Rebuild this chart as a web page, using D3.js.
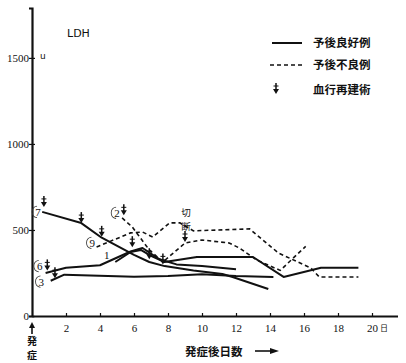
<!DOCTYPE html>
<html>
<head>
<meta charset="utf-8">
<script src="https://cdn.jsdelivr.net/npm/d3@7"></script>
<style>
  html, body { margin: 0; padding: 0; background: #fff; }
  svg { display: block; }
  .num { font-family: "Liberation Serif", "DejaVu Serif", serif; font-size: 11px; fill: #111; }
  .jp { font-family: "Noto Sans CJK JP", sans-serif; font-weight: 700; fill: #111; }
</style>
</head>
<body>
<svg id="chart" width="406" height="363"></svg>
<script>
// LDH (u) by days after onset, per case
const yTicks = [0, 500, 1000, 1500];
const xTicks = [2, 4, 6, 8, 10, 12, 14, 16, 18, 20];

// good-prognosis cases (solid)
const case7 = [[0.6,605],[2.9,540],[4.1,455],[6,355],[6.9,314],[7.8,290],[9.5,265],[11.2,244],[11.8,227],[13.9,157]];
const case6 = [[0.8,250],[2,280],[4,295],[5.8,375],[6.5,395],[7.5,330],[8.5,300],[10,290],[12,272]];
const case1 = [[4.9,314],[5.8,372],[6.4,384],[7,350],[7.8,314],[9.7,343],[13,343],[14.8,227],[17,280],[19.2,280]];
const case3 = [[1.1,205],[1.9,240],[6,228],[8,232],[10,242],[12,232],[14.2,227]];

// poor-prognosis cases (dashed)
const case9 = [[3.8,401],[5.8,483],[6.5,488],[7.1,459],[8.1,541],[8.7,541],[9.5,495],[12.8,506],[14.5,366],[16.4,279],[16.9,227],[19.2,227]];
const case2 = [[5.3,570],[5.9,517],[6.9,384],[7.7,314],[9,424],[10,442],[11.6,424],[12.2,395],[13.2,326],[14.6,265],[16.1,405]];

// revascularization events
const arrowDays   = [0.7, 2.9, 4.1, 0.9, 1.35, 5.4, 5.9, 6.9, 7.7, 9.0];
const arrowValues = [634, 540, 460, 265, 220, 585, 400, 330, 300, 430];

// case number labels
const labelText   = ["7", "6", "3", "9", "1", "2"];
const labelDays   = [0.35, 0.45, 0.55, 3.55, 4.4, 5.0];
const labelValues = [605, 290, 200, 425, 355, 600];
const labelCircle = [true, true, true, true, false, true];

const svg = d3.select("#chart");
svg.append("rect").attr("width", 406).attr("height", 363).attr("fill", "#fff");

const x = d3.scaleLinear().domain([0, 21.5]).range([32, 397.5]);
const y = d3.scaleLinear().domain([0, 1790]).range([316, 8]);

// axes
const yAxis = d3.axisLeft(y).tickValues(yTicks).tickSize(3).tickPadding(2).tickFormat(d3.format("d"));
const gy = svg.append("g").attr("transform", `translate(${x(0)},0)`).call(yAxis);
gy.select(".domain").attr("stroke", "#111").attr("stroke-width", 2.2);
gy.selectAll(".tick line").attr("stroke", "#111").attr("stroke-width", 1.2).attr("x2", 3).attr("x1", -3);
gy.selectAll(".tick text").attr("class", "num").attr("x", -3).style("font-size", "11px");

const xAxis = d3.axisBottom(x).tickValues(xTicks).tickSizeInner(-3).tickSizeOuter(0).tickPadding(8).tickFormat(d3.format("d"));
const gx = svg.append("g").attr("transform", `translate(0,${y(0)})`).call(xAxis);
gx.select(".domain").attr("stroke", "#111").attr("stroke-width", 2.2);
gx.selectAll(".tick line").attr("stroke", "#111").attr("stroke-width", 1.2);
gx.selectAll(".tick text").attr("class", "num");
svg.append("text").attr("class", "jp").attr("x", x(20) + 8).attr("y", 331)
  .style("font-size", "8px").style("font-weight", 400).text("日");

// onset marker under the origin
const ox = x(0);
svg.append("line").attr("x1", ox).attr("x2", ox).attr("y1", 327).attr("y2", 334)
  .attr("stroke", "#111").attr("stroke-width", 1.6);
svg.append("path").attr("d", `M${ox - 3},328 L${ox + 3},328 L${ox},322 Z`).attr("fill", "#111");
svg.append("text").attr("class", "jp").attr("x", ox).attr("y", 345).attr("text-anchor", "middle")
  .style("font-size", "10px").text("発");
svg.append("text").attr("class", "jp").attr("x", ox).attr("y", 359).attr("text-anchor", "middle")
  .style("font-size", "10px").text("症");

// axis title
svg.append("text").attr("class", "jp").attr("x", 185).attr("y", 356)
  .style("font-size", "11.5px").text("発症後日数");
svg.append("line").attr("x1", 255).attr("x2", 272).attr("y1", 351).attr("y2", 351)
  .attr("stroke", "#111").attr("stroke-width", 1.6);
svg.append("path").attr("d", "M270,348 L279,351 L270,354 Z").attr("fill", "#111");

svg.append("text").attr("x", 67).attr("y", 37)
  .style("font-family", "DejaVu Sans, sans-serif").style("font-size", "11px").attr("fill", "#111").text("LDH");
svg.append("text").attr("x", 40).attr("y", 59)
  .style("font-family", "DejaVu Sans, sans-serif").style("font-size", "9px").attr("fill", "#111").text("u");

// series
const line = d3.line().x(d => x(d[0])).y(d => y(d[1]));
const solid = [case7, case6, case1, case3];
const dashed = [case9, case2];

svg.append("g").selectAll("path").data(solid).join("path")
  .attr("d", line).attr("fill", "none").attr("stroke", "#111").attr("stroke-width", 2)
  .attr("stroke-linejoin", "round");
svg.append("g").selectAll("path").data(dashed).join("path")
  .attr("d", line).attr("fill", "none").attr("stroke", "#111").attr("stroke-width", 1.6)
  .attr("stroke-dasharray", "4,3");

// revascularization arrows
function arrowMark(g, px, py) {
  g.append("line").attr("x1", px).attr("x2", px).attr("y1", py - 11).attr("y2", py - 3)
    .attr("stroke", "#111").attr("stroke-width", 1.5);
  g.append("path").attr("d", `M${px - 3},${py - 5} L${px + 3},${py - 5} L${px},${py} Z`).attr("fill", "#111");
  g.append("line").attr("x1", px - 2.5).attr("x2", px + 2.5).attr("y1", py - 8).attr("y2", py - 8)
    .attr("stroke", "#111").attr("stroke-width", 1);
}
const ga = svg.append("g");
arrowDays.forEach((d, i) => arrowMark(ga, x(d), y(arrowValues[i])));

// case labels
const arc = d3.arc().innerRadius(5.4).outerRadius(6.2).startAngle(Math.PI * 1.05).endAngle(Math.PI * 1.95);
labelText.forEach((t, i) => {
  const px = x(labelDays[i]), py = y(labelValues[i]);
  svg.append("text").attr("class", "num").attr("x", px).attr("y", py + 4)
    .attr("text-anchor", "middle").style("font-size", "11px").text(t);
  if (labelCircle[i]) {
    svg.append("path").attr("d", arc).attr("transform", `translate(${px},${py})`).attr("fill", "#333");
  }
});

// amputation note
svg.append("text").attr("class", "jp").attr("x", 186).attr("y", 216).attr("text-anchor", "middle")
  .style("font-size", "9.5px").style("font-weight", 400).text("切");
svg.append("text").attr("class", "jp").attr("x", 186).attr("y", 230).attr("text-anchor", "middle")
  .style("font-size", "9.5px").style("font-weight", 400).text("断");

// legend
const lg = svg.append("g");
lg.append("line").attr("x1", 272).attr("x2", 302).attr("y1", 43).attr("y2", 43)
  .attr("stroke", "#111").attr("stroke-width", 2);
lg.append("text").attr("class", "jp").attr("x", 313).attr("y", 47).style("font-size", "11.5px").text("予後良好例");
lg.append("line").attr("x1", 270).attr("x2", 302).attr("y1", 65).attr("y2", 65)
  .attr("stroke", "#111").attr("stroke-width", 1.6).attr("stroke-dasharray", "4,3");
lg.append("text").attr("class", "jp").attr("x", 313).attr("y", 69).style("font-size", "11.5px").text("予後不良例");
arrowMark(lg, 276, 94);
lg.append("text").attr("class", "jp").attr("x", 313).attr("y", 94).style("font-size", "11.5px").text("血行再建術");
</script>
</body>
</html>
